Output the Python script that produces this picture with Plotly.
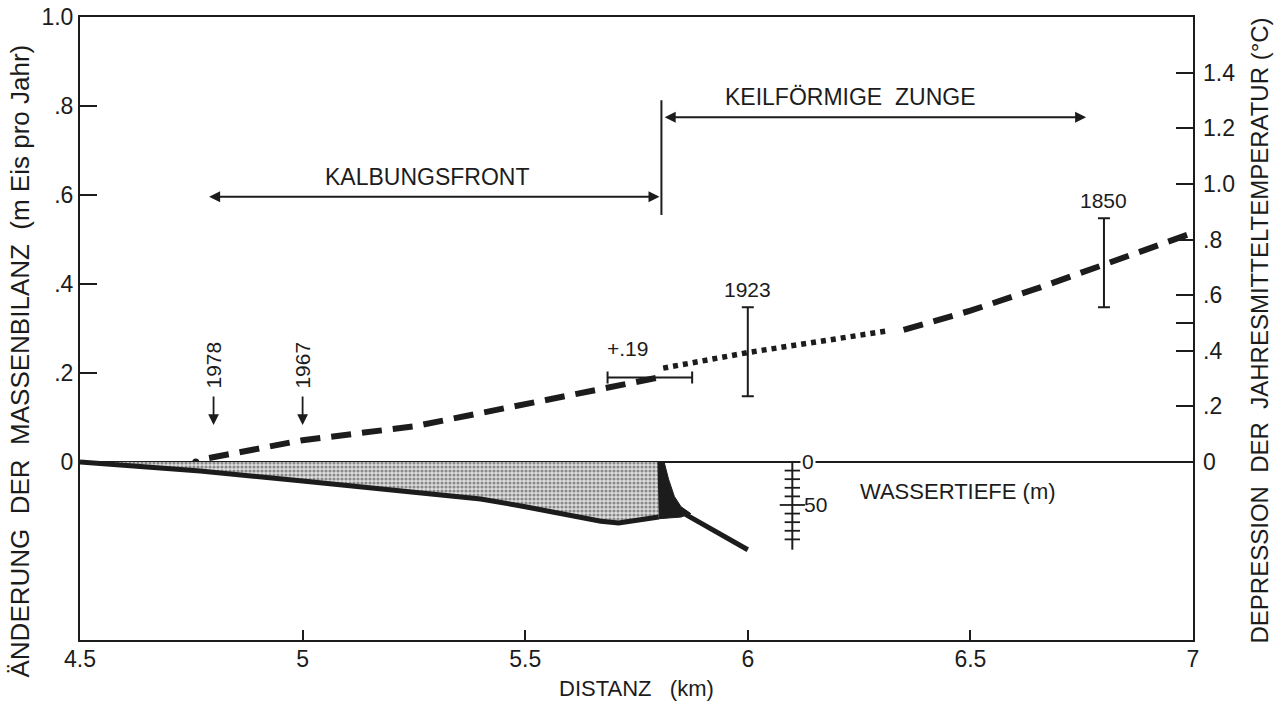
import plotly.graph_objects as go

# ---------------- data ----------------
x_ticks = [4.5, 5, 5.5, 6, 6.5, 7]
x_tick_text = ["4.5", "5", "5.5", "6", "6.5", "7"]
left_ticks = [0, 0.2, 0.4, 0.6, 0.8, 1.0]
left_tick_text = ["0", ".2", ".4", ".6", ".8", "1.0"]
right_ticks = [0, 0.2, 0.4, 0.5, 0.6, 0.8, 1.0, 1.2, 1.4]
right_tick_text = ["0", ".2", ".4", "", ".6", ".8", "1.0", "1.2", "1.4"]

# change of mass balance (m ice / year) along distance (km)
calving_x = [4.79, 5.0, 5.25, 5.47, 5.77, 5.8]
calving_y = [0.009, 0.049, 0.08, 0.124, 0.184, 0.19]
start_x = [4.76]
start_y = [0.0]
transition_x = [5.81, 6.0, 6.31]
transition_y = [0.211, 0.246, 0.294]
wedge_x = [6.35, 6.5, 6.65, 6.8, 7.0]
wedge_y = [0.297, 0.34, 0.39, 0.443, 0.515]

# error bars
err_years = ["1923", "1850"]
err_x = [6.0, 6.8]
err_y = [0.248, 0.448]
err_half = [0.1, 0.1]
front_err_x = [5.78]
front_err_y = [0.19]
front_err_half = [0.095]

# year markers (arrows)
year_labels = ["1978", "1967"]
year_x = [4.8, 5.0]

# water depth profile (m)
bed_x = [4.5, 4.77, 5.0, 5.22, 5.4, 5.5, 5.58, 5.67, 5.71, 5.77, 5.8]
bed_depth = [0, 10.5, 22, 33, 43, 52, 60, 69, 71, 67, 64]
front_x = [5.797, 5.812, 5.822, 5.835, 5.85, 5.872, 5.85, 5.8]
front_depth = [0, 0, 20, 40, 52, 60, 64, 66]
tail_x = [5.86, 6.0]
tail_depth = [61, 102]
scale_depth_ticks = [10, 20, 30, 40, 60, 70, 80, 90]
scale_x = 6.1
scale_end = 102

INK = "#1c1c1c"
FONT = "Liberation Sans, Arial, Helvetica, sans-serif"
NB = "\u00a0"

fig = go.Figure()

# water depth fill (stippled)
fig.add_trace(go.Scatter(
    x=bed_x, y=bed_depth, yaxis="y3", mode="lines",
    line=dict(color=INK, width=5), fill="tozeroy",
    fillcolor="#cccccc",
    fillpattern=dict(shape=".", fgcolor="#333333", bgcolor="#dedede", size=4, solidity=0.5),
    hoverinfo="skip", showlegend=False))
fig.add_trace(go.Scatter(
    x=front_x, y=front_depth, yaxis="y3", mode="lines", fill="toself",
    fillcolor=INK, line=dict(color=INK, width=1), hoverinfo="skip", showlegend=False))
fig.add_trace(go.Scatter(
    x=tail_x, y=tail_depth, yaxis="y3", mode="lines",
    line=dict(color=INK, width=5), hoverinfo="skip", showlegend=False))

# depth scale
fig.add_trace(go.Scatter(
    x=[scale_x, scale_x], y=[0, scale_end], yaxis="y3", mode="lines",
    line=dict(color=INK, width=2), hoverinfo="skip", showlegend=False))
fig.add_trace(go.Scatter(
    x=[scale_x] * len(scale_depth_ticks), y=scale_depth_ticks, yaxis="y3", mode="markers",
    marker=dict(symbol="line-ew", size=11, line=dict(color=INK, width=1.8)),
    hoverinfo="skip", showlegend=False))
fig.add_trace(go.Scatter(
    x=[scale_x], y=[50], yaxis="y3", mode="markers",
    marker=dict(symbol="line-ew", size=18, line=dict(color=INK, width=1.8)),
    hoverinfo="skip", showlegend=False))

# curves
fig.add_trace(go.Scatter(
    x=calving_x, y=calving_y, mode="lines",
    line=dict(color=INK, width=6, dash="20px,11px"), hoverinfo="skip", showlegend=False))
fig.add_trace(go.Scatter(
    x=start_x, y=start_y, mode="markers",
    marker=dict(color=INK, size=7), hoverinfo="skip", showlegend=False))
fig.add_trace(go.Scatter(
    x=transition_x, y=transition_y, mode="lines",
    line=dict(color=INK, width=5.5, dash="5px,5px"), hoverinfo="skip", showlegend=False))
fig.add_trace(go.Scatter(
    x=wedge_x, y=wedge_y, mode="lines",
    line=dict(color=INK, width=6, dash="20px,11px"), hoverinfo="skip", showlegend=False))

# error bars
fig.add_trace(go.Scatter(
    x=err_x, y=err_y, mode="markers", marker=dict(size=1, color=INK),
    error_y=dict(type="data", array=err_half, color=INK, thickness=2, width=6),
    hoverinfo="skip", showlegend=False))
fig.add_trace(go.Scatter(
    x=front_err_x, y=front_err_y, mode="markers", marker=dict(size=1, color=INK),
    error_x=dict(type="data", array=front_err_half, color=INK, thickness=2, width=6),
    hoverinfo="skip", showlegend=False))

# right axis carrier
fig.add_trace(go.Scatter(x=[4.5], y=[0], yaxis="y2", mode="markers",
                         marker=dict(opacity=0), hoverinfo="skip", showlegend=False))

ann = []
tf = dict(family=FONT, size=21, color=INK)
for lab, xv in zip(year_labels, year_x):
    ann.append(dict(x=xv, y=0.083, xref="x", yref="y", text="", showarrow=True,
                    ax=0, ay=-30, arrowhead=2, arrowsize=1.2, arrowwidth=1.8,
                    arrowcolor=INK, standoff=0))
    ann.append(dict(x=xv, y=0.218, xref="x", yref="y", text=lab, showarrow=False,
                    textangle=-90, font=tf, xanchor="center", yanchor="middle"))
for lab, xv, yv, h in zip(err_years, err_x, err_y, err_half):
    ann.append(dict(x=xv, y=yv + h, xref="x", yref="y", text=lab, showarrow=False,
                    font=tf, xanchor="center", yanchor="bottom", yshift=4))
ann.append(dict(x=front_err_x[0] - 0.05, y=0.255, xref="x", yref="y", text="+.19",
                showarrow=False, font=tf, xanchor="center", yanchor="middle"))

# region arrows
ann.append(dict(x=4.79, y=0.596, ax=5.805, ay=0.596, xref="x", yref="y", axref="x", ayref="y",
                text="", showarrow=True, arrowside="end+start", arrowhead=2, arrowsize=1.1,
                arrowwidth=2, arrowcolor=INK, standoff=0, startstandoff=0))
ann.append(dict(x=6.76, y=0.775, ax=5.81, ay=0.775, xref="x", yref="y", axref="x", ayref="y",
                text="", showarrow=True, arrowside="end+start", arrowhead=2, arrowsize=1.1,
                arrowwidth=2, arrowcolor=INK, standoff=0, startstandoff=0))
ann.append(dict(x=5.28, y=0.64, xref="x", yref="y", text="KALBUNGSFRONT", showarrow=False,
                font=dict(family=FONT, size=23, color=INK)))
ann.append(dict(x=6.23, y=0.82, xref="x", yref="y", text="KEILFÖRMIGE" + NB * 2 + "ZUNGE",
                showarrow=False, font=dict(family=FONT, size=23, color=INK)))

# depth scale labels
ann.append(dict(x=scale_x, y=0, xref="x", yref="y3", text="0", showarrow=False,
                font=tf, xanchor="left", xshift=8, bgcolor="white", borderpad=1))
ann.append(dict(x=scale_x, y=50, xref="x", yref="y3", text="50", showarrow=False,
                font=tf, xanchor="left", xshift=10))
ann.append(dict(x=6.473, y=-0.067, xref="x", yref="y", text="WASSERTIEFE" + NB + "(m)",
                showarrow=False, font=dict(family=FONT, size=22, color=INK),
                xanchor="center", yanchor="middle"))

# axis titles
left_title = ("ÄNDERUNG" + NB * 2 + "DER" + NB * 2 + "MASSENBILANZ" + NB * 2
              + "(m" + NB + "Eis pro Jahr)")
ann.append(dict(x=0, y=0.447, xref="paper", yref="paper", xshift=-77, showarrow=False,
                text=left_title, textangle=-90, font=dict(family=FONT, size=26, color=INK)))
ann.append(dict(x=1, y=0.496, xref="paper", yref="paper", xshift=82, showarrow=False,
                text="DEPRESSION" + NB * 2 + "DER" + NB * 2 + "JAHRESMITTELTEMPERATUR (°C)",
                textangle=-90, font=dict(family=FONT, size=24, color=INK)))
ann.append(dict(x=0.5, y=0, xref="paper", yref="paper", yshift=-48, showarrow=False,
                text="DISTANZ" + NB * 3 + "(km)", yanchor="middle",
                font=dict(family=FONT, size=22, color=INK)))

fig.update_layout(
    width=1275, height=701,
    margin=dict(l=80, r=82, t=17, b=61),
    paper_bgcolor="white", plot_bgcolor="white",
    font=dict(family=FONT, color=INK, size=20),
    showlegend=False,
    annotations=ann,
    shapes=[dict(type="line", xref="x", yref="y", x0=5.806, x1=5.806, y0=0.555, y1=0.813,
                 line=dict(color=INK, width=2))],
    xaxis=dict(range=[4.5, 7], tickvals=x_ticks, ticktext=x_tick_text, showgrid=False,
               zeroline=False, showline=True, linecolor=INK, linewidth=2, mirror=True,
               ticks="inside", ticklen=10, tickwidth=2, tickcolor=INK, automargin=False,
               ticklabelstandoff=-3,
               tickfont=dict(family=FONT, size=23, color=INK)),
    yaxis=dict(range=[-0.4, 1.0], tickvals=left_ticks, ticktext=left_tick_text, showgrid=False,
               zeroline=True, zerolinecolor=INK, zerolinewidth=2,
               showline=True, linecolor=INK, linewidth=2, mirror=True,
               ticks="inside", ticklen=17, tickwidth=2, tickcolor=INK, automargin=False,
               tickfont=dict(family=FONT, size=23, color=INK)),
    yaxis2=dict(range=[-0.64, 1.6], overlaying="y", side="right", tickvals=right_ticks,
                ticktext=right_tick_text, showgrid=False, zeroline=False, showline=False,
                ticks="inside", ticklen=17, tickwidth=2, tickcolor=INK, automargin=False,
                ticklabelstandoff=9,
                tickfont=dict(family=FONT, size=23, color=INK)),
    yaxis3=dict(range=[207.0, -517.4], overlaying="y", visible=False, showgrid=False,
                zeroline=False),
)

fig.write_html("out.html", config={"displayModeBar": False},
               post_script="document.body.style.margin='0';")
